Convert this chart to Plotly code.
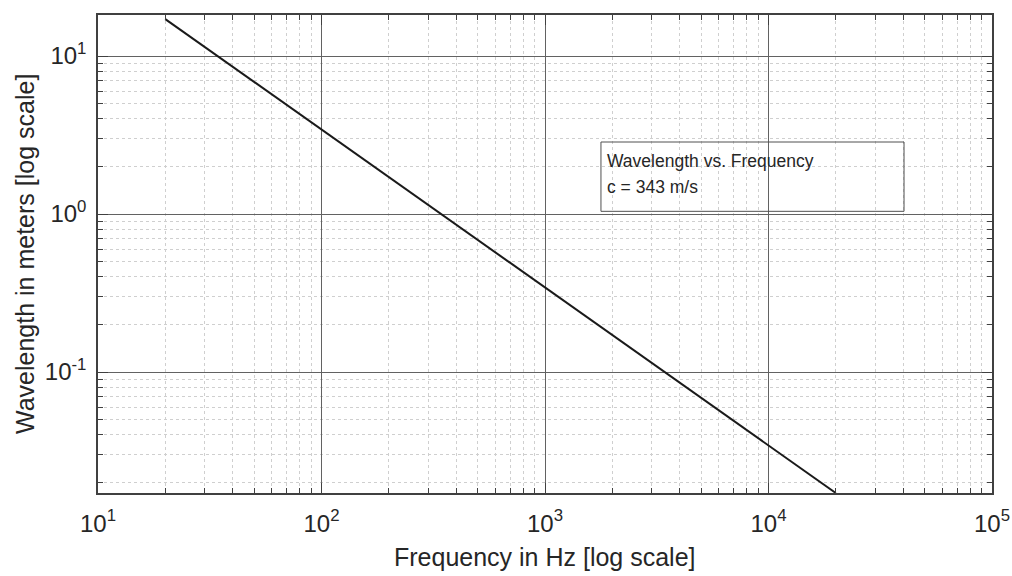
import plotly.graph_objects as go
import math

# Data
freq_hz = [20, 20000]
wavelength_m = [17.15, 0.01715]
x_tick_vals = [10, 100, 1000, 10000, 100000]
x_tick_text = ["10<sup>1</sup>", "10<sup>2</sup>", "10<sup>3</sup>", "10<sup>4</sup>", "10<sup>5</sup>"]
y_tick_vals = [0.1, 1, 10]
y_tick_text = ["10<sup>-1</sup>", "10<sup>0</sup>", "10<sup>1</sup>"]
x_minor_vals = [m * 10 ** e for e in range(1, 5) for m in range(2, 10)]
y_minor_vals = [m * 10 ** e for e in range(-2, 2) for m in range(2, 10)]

FONT = "Liberation Sans, Arial, sans-serif"
TXT = "#262626"

fig = go.Figure()
fig.add_trace(go.Scatter(x=freq_hz, y=wavelength_m, mode="lines",
                         line=dict(color="#1a1a1a", width=2), showlegend=False))

axis_common = dict(
    type="log", showline=True, mirror="allticks", linecolor="#404040", linewidth=1.5,
    ticks="inside", ticklen=10, tickwidth=1.2, tickcolor="#404040",
    showgrid=True, gridcolor="#626262", gridwidth=1,
    zeroline=False, automargin=False,
    tickfont=dict(family=FONT, size=24, color=TXT),
)
minor_common = dict(ticks="inside", ticklen=5, tickcolor="#404040", tickwidth=1,
                    showgrid=True, gridcolor="#cfcfcf", griddash="dot", gridwidth=1)

fig.update_xaxes(**axis_common, range=[1, 5], tickmode="array", tickvals=x_tick_vals, ticktext=x_tick_text,
                 ticklabelstandoff=8,
                 minor=dict(**minor_common, tickmode="array", tickvals=x_minor_vals))
fig.update_yaxes(**axis_common, range=[math.log10(0.01715), 1.26], tickmode="array", tickvals=y_tick_vals, ticktext=y_tick_text,
                 ticklabelstandoff=5,
                 minor=dict(**minor_common, tickmode="array", tickvals=y_minor_vals))

# Axis titles
fig.add_annotation(xref="paper", yref="paper", x=0.5, y=0, yshift=-64, yanchor="middle",
                   text="Frequency in Hz [log scale]", showarrow=False,
                   font=dict(family=FONT, size=25, color=TXT))
fig.add_annotation(xref="paper", yref="paper", x=0, y=0.5, xshift=-73, xanchor="center", yanchor="middle",
                   text="Wavelength in meters [log scale]", showarrow=False, textangle=-90,
                   font=dict(family=FONT, size=25, color=TXT))

# Legend-like text box
fig.add_shape(type="rect", xref="paper", yref="paper", x0=0.5626, x1=0.9016, y0=0.5893, y1=0.7343,
              line=dict(color="#505050", width=1), fillcolor="rgba(0,0,0,0)")
fig.add_annotation(xref="paper", yref="paper", x=0.5672, y=0.695, text="Wavelength vs. Frequency",
                   showarrow=False, xanchor="left", yanchor="middle", font=dict(family=FONT, size=17.5, color=TXT))
fig.add_annotation(xref="paper", yref="paper", x=0.5672, y=0.640, text="c = 343 m/s",
                   showarrow=False, xanchor="left", yanchor="middle", font=dict(family=FONT, size=17.5, color=TXT))

fig.update_layout(width=1012, height=576, margin=dict(l=98, r=20, t=15, b=83),
                  paper_bgcolor="white", plot_bgcolor="white", font=dict(family=FONT, color=TXT))
fig.write_html("out.html")
